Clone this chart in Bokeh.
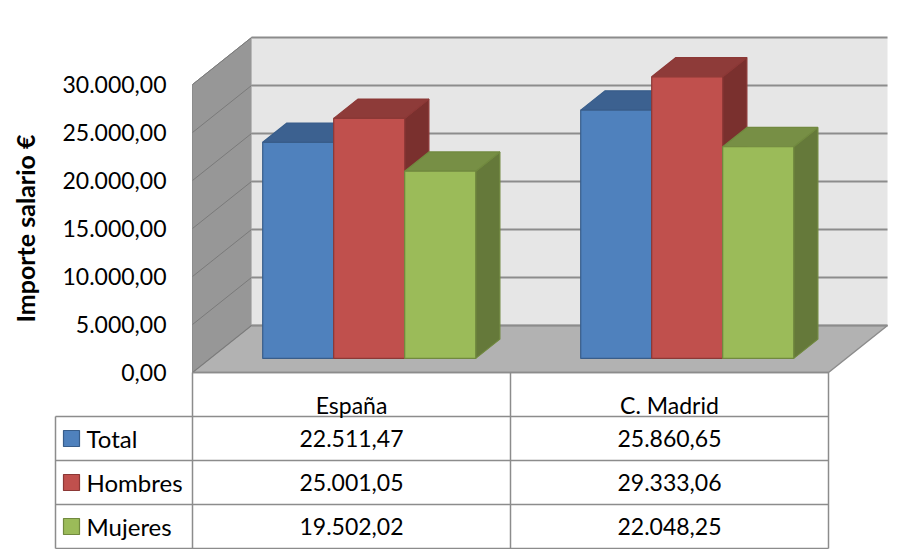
import math
from bokeh.plotting import figure
from bokeh.models import Range1d, FixedTicker, CustomJSTickFormatter
from bokeh.core.properties import value
from bokeh.embed import file_html
from bokeh.resources import INLINE

# ---------------- data ----------------
categories = ["España", "C. Madrid"]
series_names = ["Total", "Hombres", "Mujeres"]
total = [22511.47, 25860.65]
hombres = [25001.05, 29333.06]
mujeres = [19502.02, 22048.25]
y_ticks = [0, 5000, 10000, 15000, 20000, 25000, 30000]
axis_title = "Importe salario €"

series = [total, hombres, mujeres]
front_colors = ["#4f81bd", "#c0504d", "#9bbb59"]
top_colors = ["#3c6190", "#8e3b39", "#778f45"]
side_colors = ["#365a86", "#7a302e", "#65793a"]
edge_colors = ["#385d8a", "#8c3836", "#71893f"]

FONT = "Lato"
GRID = "#8c8c8c"

# ---------------- layout constants (pixels) ----------------
W = 913
H = 549
X0_PX = 192.0             # page x of the front-left corner of the floor
Y0_PX = 372.0             # page y of value 0 on the front plane
PX_UNIT = 318.0           # px per category
PX_VAL = 288.0 / 30000.0  # px per value unit
N = len(categories)

DX = 59.0 / PX_UNIT       # depth offset (x units)
DY = 47.0 / PX_VAL        # depth offset (value units)
BW = 71.0 / PX_UNIT       # bar width
F0 = 0.30                 # bar front depth fraction
FD = 0.41                 # bar depth fraction
VMAX = y_ticks[-1]

def xu(px):   # pixel offset from front-left corner -> x units
    return px / PX_UNIT

def yv(px):   # pixel offset below zero line -> value units
    return -px / PX_VAL

p = figure(width=W, height=H, output_backend="svg", toolbar_location=None,
           x_range=Range1d(-X0_PX / PX_UNIT, (W - X0_PX) / PX_UNIT),
           y_range=Range1d(-(H - Y0_PX) / PX_VAL, Y0_PX / PX_VAL),
           x_axis_location=None, min_border=0, outline_line_color=None,
           background_fill_color="white", border_fill_color="white")
p.grid.visible = False

ax = p.yaxis[0]
ax.fixed_location = 0
ax.ticker = FixedTicker(ticks=y_ticks)
ax.formatter = CustomJSTickFormatter(code="""
const parts = tick.toFixed(2).split('.');
parts[0] = parts[0].replace(/\\B(?=(\\d{3})+(?!\\d))/g, '.');
return parts[0] + ',' + parts[1];
""")
ax.axis_line_color = None
ax.major_tick_line_color = None
ax.minor_tick_line_color = None
ax.major_tick_out = 0
ax.major_tick_in = 0
ax.major_label_standoff = 26
ax.major_label_text_font = FONT
ax.major_label_text_font_size = "23px"
ax.major_label_text_color = "black"

# axis title (placed beside the value scale)
p.text(x=[xu(24 - X0_PX)], y=[(y_ticks[0] + y_ticks[-1]) / 2.0], text=[axis_title],
       angle=math.pi / 2, text_font=value(FONT), text_font_style="bold",
       text_font_size="25px", text_color="black",
       text_align="center", text_baseline="middle")

# walls and floor
p.patch([0, DX, DX, 0], [0, DY, VMAX + DY, VMAX], fill_color="#979797",
        line_color=GRID, line_width=1)
p.quad(left=[DX], right=[N + DX], bottom=[DY], top=[VMAX + DY],
       fill_color="#e6e6e6", line_color=None)
p.patch([0, N, N + DX, DX], [0, 0, DY, DY], fill_color="#b2b2b2",
        line_color=GRID, line_width=1.5)

# gridlines
p.multi_line(xs=[[DX, N + DX] for t in y_ticks],
             ys=[[t + DY, t + DY] for t in y_ticks],
             line_color=GRID, line_width=2)
p.multi_line(xs=[[0, DX] for t in y_ticks],
             ys=[[t, t + DY] for t in y_ticks],
             line_color="#7a7a7a", line_width=1)

# bars
pxs, pys, fills, lines = [], [], [], []
for i in range(N):
    for k, vals in enumerate(series):
        v = vals[i]
        x0 = i + (1 - 3 * BW) / 2 + k * BW + F0 * DX
        x1 = x0 + BW
        y0 = F0 * DY
        y1 = y0 + v
        ddx, ddy = FD * DX, FD * DY
        pxs.append([x1, x1 + ddx, x1 + ddx, x1])
        pys.append([y0, y0 + ddy, y1 + ddy, y1])
        fills.append(side_colors[k]); lines.append(edge_colors[k])
        pxs.append([x0, x1, x1 + ddx, x0 + ddx])
        pys.append([y1, y1, y1 + ddy, y1 + ddy])
        fills.append(top_colors[k]); lines.append(edge_colors[k])
        pxs.append([x0, x1, x1, x0])
        pys.append([y0, y0, y1, y1])
        fills.append(front_colors[k]); lines.append(edge_colors[k])
p.patches(xs=pxs, ys=pys, fill_color=fills, line_color=lines, line_width=1.2)

# ---------------- data table ----------------
ns = len(series_names)
HEAD_H = 44.0
ROW_H = 44.0
LEG_LEFT = xu(55 - X0_PX)
row_top = [yv(HEAD_H + r * ROW_H) for r in range(ns + 1)]
row_mid = [yv(HEAD_H + (r + 0.5) * ROW_H) for r in range(ns)]
tab_bottom = row_top[-1]

p.line([0, N], [0, 0], line_color=GRID, line_width=1.5)
p.multi_line(xs=[[i, i] for i in range(N + 1)],
             ys=[[0, tab_bottom] for i in range(N + 1)],
             line_color=GRID, line_width=1.5)
p.line([LEG_LEFT, LEG_LEFT], [row_top[0], tab_bottom], line_color=GRID, line_width=1.5)
p.multi_line(xs=[[LEG_LEFT, N] for r in range(ns + 1)],
             ys=[[y, y] for y in row_top],
             line_color=GRID, line_width=1.5)
p.text(x=[i + 0.5 for i in range(N)], y=[yv(32)] * N, text=categories,
       text_font=value(FONT), text_font_size="23px", text_color="black",
       text_align="center", text_baseline="middle")

# legend column
p.scatter(x=[xu(71 - X0_PX)] * ns, y=row_mid, marker="square", size=16,
          fill_color=front_colors, line_color=edge_colors, line_width=1.2)
p.text(x=[xu(86 - X0_PX)] * ns, y=row_mid, text=series_names,
       text_font=value(FONT), text_font_size="24px", text_color="black",
       text_align="left", text_baseline="middle")

def fmt(v):
    s = f"{v:,.2f}"
    return s.replace(",", "X").replace(".", ",").replace("X", ".")

tx, ty, tt = [], [], []
for k, vals in enumerate(series):
    for i in range(N):
        tx.append(i + 0.5); ty.append(row_mid[k]); tt.append(fmt(vals[i]))
p.text(x=tx, y=ty, text=tt, text_font=value(FONT), text_font_size="23px",
       text_color="black", text_align="center", text_baseline="middle")

open("out.html", "w").write(file_html(p, INLINE))
